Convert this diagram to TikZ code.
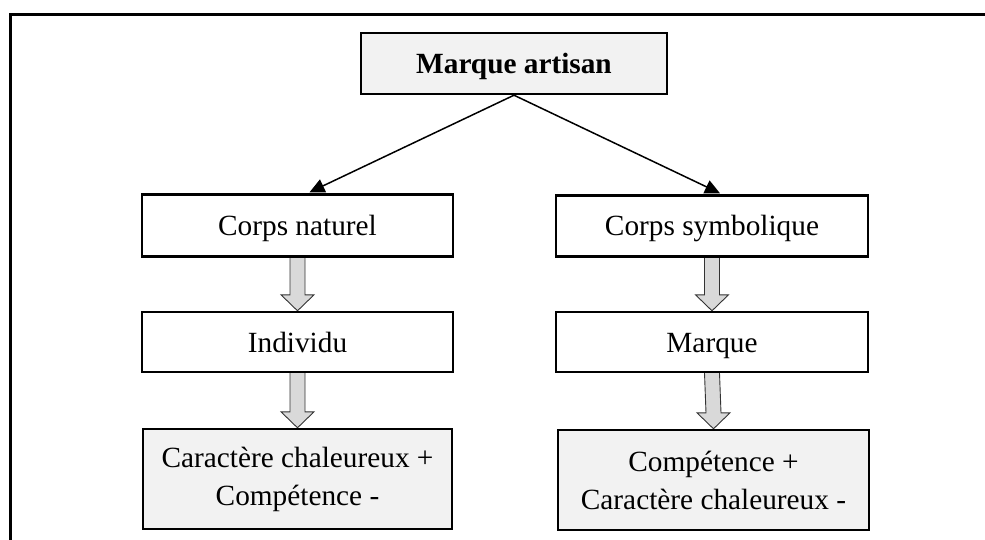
\documentclass[tikz,border=0pt]{standalone}
\usepackage{fontspec}
\setmainfont{Liberation Serif}
\usetikzlibrary{calc,arrows.meta,backgrounds}
\definecolor{boxgray}{HTML}{F2F2F2}
\definecolor{arrgray}{HTML}{D9D9D9}
\tikzset{
  box/.style={draw=black, line width=2.4pt, rectangle, inner sep=0pt, align=center,
    font=\fontsize{29.3}{38}\selectfont},
  oneline/.style={text height=24pt, text depth=4pt},
  graybox/.style={box, fill=boxgray},
  whitebox/.style={box, fill=white},
  conn/.style={line width=1.5pt, -{Triangle[length=15pt,width=14pt]}},
  blockarr/.style={draw=black!80, line width=0.9pt, fill=arrgray},
  frameline/.style={line width=3pt, black}
}
\newcommand{\garrow}[2]{%
  \draw[blockarr] ($(#1.south)+(-7.5,0)$) -- ($(#2.north)+(-7.5,-16)$) -- ($(#2.north)+(-16.5,-16)$) -- (#2.north) -- ($(#2.north)+(16.5,-16)$) -- ($(#2.north)+(7.5,-16)$) -- ($(#1.south)+(7.5,0)$);}
\begin{document}
\begin{tikzpicture}[x=1pt,y=-1pt]
\useasboundingbox (0,0) rectangle (985,540);
\coordinate (fr1) at (10,540);
\coordinate (fr2) at (10,15);
\coordinate (fr3) at (985,15);
\draw[frameline] (fr1) -- (fr2) -- (fr3);

\node[graybox, oneline, minimum width=306pt, minimum height=61pt] (top) at (514,63.5) {\textbf{Marque artisan}};
\node[whitebox, oneline, minimum width=311pt, minimum height=62pt] (cn) at (297.5,225.5) {Corps naturel};
\node[whitebox, oneline, minimum width=312pt, minimum height=61pt] (cs) at (712,226) {Corps symbolique};
\node[whitebox, oneline, minimum width=311pt, minimum height=60pt] (ind) at (297.5,342) {Individu};
\node[whitebox, oneline, minimum width=312pt, minimum height=60pt] (mq) at (712,342) {Marque};
\node[graybox, minimum width=309pt, minimum height=100pt] (bl) at (297.5,479) {Caractère chaleureux +\\Compétence -};
\node[graybox, minimum width=311pt, minimum height=100pt] (br) at (713.5,480) {Compétence +\\Caractère chaleureux -};

\draw[conn] (top.south) -- ($(cn.north)+(12,-1)$);
\draw[conn] (top.south) -- ($(cs.north)+(8,-1)$);

\begin{scope}[on background layer]
\garrow{cn}{ind}
\garrow{cs}{mq}
\garrow{ind}{bl}
\garrow{mq}{br}
\end{scope}
\end{tikzpicture}
\end{document}
